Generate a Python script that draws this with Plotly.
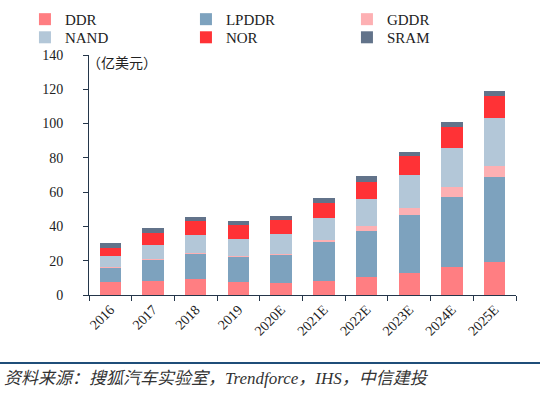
import plotly.graph_objects as go

years = ["2016", "2017", "2018", "2019", "2020E", "2021E", "2022E", "2023E", "2024E", "2025E"]
ddr   = [7.4, 8.2, 9.3, 7.4, 6.8, 8.3, 10.3, 12.7, 16.2, 19.4]
lpddr = [8.8, 12.4, 15.0, 15.3, 16.9, 22.4, 27.2, 34.0, 41.2, 49.6]
gddr  = [0.3, 0.3, 0.3, 0.3, 0.3, 1.3, 2.7, 3.9, 5.5, 6.2]
nand  = [6.2, 8.0, 10.3, 9.9, 11.7, 12.7, 15.8, 19.4, 23.1, 27.8]
nor   = [4.9, 7.4, 8.2, 8.2, 7.9, 9.1, 10.1, 11.1, 11.9, 13.0]
sram  = [2.5, 2.9, 2.2, 2.2, 2.6, 2.6, 3.3, 2.5, 3.3, 3.1]

series = [
    ("DDR", ddr, "#FF7E82", "legend"),
    ("LPDDR", lpddr, "#7DA2BE", "legend"),
    ("GDDR", gddr, "#FDB0B3", "legend"),
    ("NAND", nand, "#B3C7D8", "legend2"),
    ("NOR", nor, "#FF3236", "legend2"),
    ("SRAM", sram, "#62738A", "legend2"),
]

serif = "Liberation Serif, Times New Roman, serif"
fig = go.Figure()
for name, vals, col, lg in series:
    fig.add_trace(go.Bar(x=years, y=vals, name=name, legend=lg,
                         marker=dict(color=col, line=dict(width=0))))

axis_col = "#24364a"
leg_common = dict(orientation="h", xanchor="left", yanchor="top",
                  entrywidth=116, entrywidthmode="pixels", traceorder="normal",
                  font=dict(family=serif, size=15, color="#222222"),
                  itemwidth=30, bgcolor="rgba(0,0,0,0)")
fig.update_layout(
    width=550, height=396,
    barmode="stack", bargap=0.5,
    paper_bgcolor="white", plot_bgcolor="white",
    margin=dict(l=89, r=34, t=55, b=101, autoexpand=False),
    font=dict(family=serif, size=14, color="#222222"),
    legend=dict(x=-0.150, y=1.217, **leg_common),
    legend2=dict(x=-0.150, y=1.1415, **leg_common),
    showlegend=True,
)
fig.update_xaxes(type="category", showline=True, linecolor=axis_col, linewidth=1,
                 ticks="outside", tickson="boundaries", ticklen=5, tickcolor=axis_col,
                 tickangle=-45, showgrid=False, tickfont=dict(family=serif, size=14, color="#222222"))
fig.update_yaxes(range=[0, 140], dtick=20, showline=True, linecolor=axis_col, linewidth=1,
                 ticks="outside", ticklen=5, tickcolor=axis_col, showgrid=False, zeroline=False,
                 tickfont=dict(family=serif, size=14, color="#222222"), ticklabelstandoff=17)

fig.add_annotation(text="（亿美元）", xref="paper", yref="paper", x=-0.01, y=1.0,
                   xanchor="left", yanchor="middle", yshift=-7, showarrow=False,
                   font=dict(family="Noto Sans CJK SC", size=14, color="#222222"))
fig.add_shape(type="line", xref="paper", yref="paper", x0=-89/427, x1=(540-89)/427,
              y0=-(363-295)/240, y1=-(363-295)/240, line=dict(color="#1F4E79", width=2))
fig.add_annotation(text="<i>资料来源：搜狐汽车实验室，Trendforce，IHS，中信建投</i>",
                   xref="paper", yref="paper", x=-87/427, y=-(378-295)/240,
                   xanchor="left", yanchor="middle", showarrow=False,
                   font=dict(family="Liberation Serif, Noto Sans CJK SC", size=17, color="#333333"))

fig.write_html("out.html", config={"displayModeBar": False},
               post_script="document.body.style.margin='0px';")
